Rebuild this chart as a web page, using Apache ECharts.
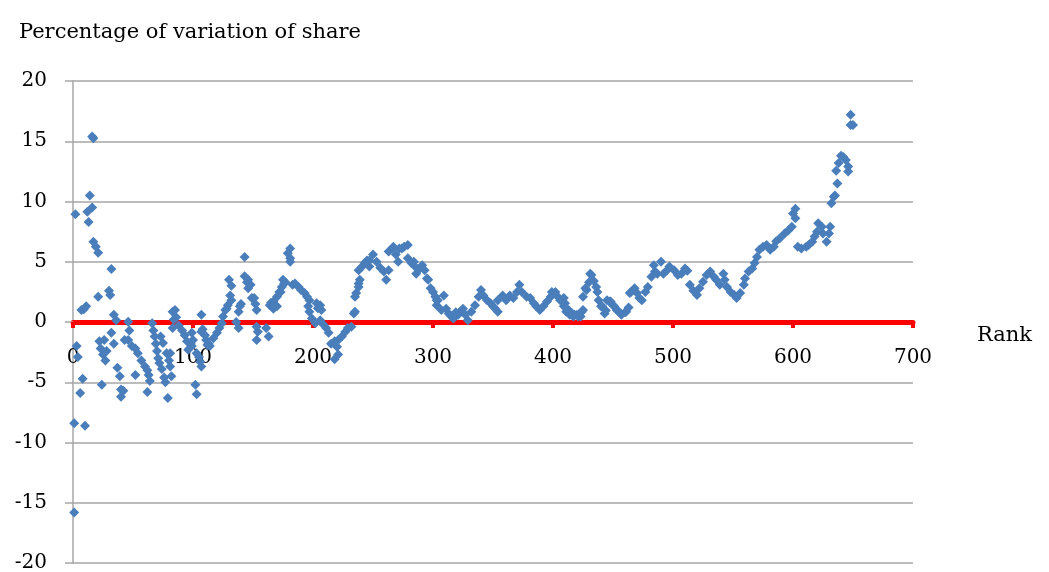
<!DOCTYPE html>
<html>
<head>
<meta charset="utf-8">
<script src="https://cdn.jsdelivr.net/npm/echarts@6/dist/echarts.min.js"></script>
<style>
html,body{margin:0;padding:0;background:#fff;overflow:hidden;}
#chart{width:1049px;height:572px;}
</style>
</head>
<body>
<div id="chart"></div>
<script>
const xTicks = [0, 100, 200, 300, 400, 500, 600, 700];
const yTicks = [-20, -15, -10, -5, 0, 5, 10, 15, 20];

const ranks = [
1,1,2,3,4,6,8,7,9,10,11,12,13,14,16,16,17,17,19,21,21,22,23,24,25,26,27,28,30,31,32,32,34,34,36,37,39,40,40,42,43,46,46,47,49,52,52,54,57,60,62,62,63,64,66,67,68,69,70,71,72,73,74,75,76,77,78,79,80,81,82,81,83,83,84,85,86,88,91,93,95,96,98,99,99,100,102,103,103,105,106,107,107,107,108,110,111,112,113,114,117,120,122,124,125,127,128,129,130,131,132,132,136,138,138,139,140,143,143,145,146,146,148,149,151,152,153,153,154,153,161,163,164,165,167,167,170,170,172,173,174,175,176,177,179,181,181,181,183,185,188,190,193,195,196,197,197,199,202,203,204,206,207,206,209,211,213,215,218,220,221,221,218,224,227,229,232,234,235,235,236,238,238,239,238,241,243,245,247,247,250,253,256,259,261,263,263,266,267,269,271,272,274,276,279,279,282,284,285,286,289,291,293,295,296,298,300,302,303,303,304,307,309,311,313,315,317,319,321,323,325,327,329,332,335,338,340,342,345,348,350,352,354,354,358,361,364,367,370,372,374,378,381,384,386,389,392,395,398,399,402,404,406,409,409,410,411,413,414,416,417,418,420,421,423,424,425,425,427,428,430,431,432,434,436,437,438,440,441,443,444,445,447,448,450,451,453,454,457,460,461,463,464,465,467,468,470,472,474,477,479,482,484,485,487,490,492,495,497,501,504,507,510,512,514,517,520,522,525,528,531,534,536,539,542,543,545,548,551,553,556,559,560,563,566,568,570,572,575,578,581,584,586,589,593,596,599,600,602,602,604,607,611,613,616,618,620,621,624,625,628,630,631,632,634,635,637,636,638,640,642,644,646,646,648,648,650
];
const shares = [
-15.8,-8.4,8.95,-2.0,-2.9,-5.9,-4.7,1.0,1.05,-8.6,1.3,9.15,8.3,10.5,15.4,9.5,15.25,6.65,6.25,5.75,2.1,-1.6,-2.2,-5.2,-2.7,-1.5,-3.2,-2.4,2.6,2.25,4.4,-0.9,0.6,-1.8,0.15,-3.8,-4.5,-5.6,-6.2,-5.7,-1.5,0.03,-1.5,-0.7,-2.0,-4.4,-2.2,-2.6,-3.2,-3.7,-4.0,-5.8,-4.4,-4.9,-0.1,-0.7,-1.2,-1.8,-2.4,-3.0,-3.4,-1.2,-3.9,-1.75,-4.6,-5.0,-2.6,-6.3,-3.2,-3.7,-4.5,-2.6,-0.5,0.85,0.2,1.0,0.4,-0.3,-0.7,-1.1,-1.6,-2.3,-1.8,-0.9,-2.0,-1.5,-5.2,-6.0,-2.6,-2.9,-3.3,-3.7,0.6,-0.8,-0.6,-1.1,-1.5,-1.9,-1.8,-2.0,-1.35,-0.9,-0.5,-0.1,0.45,1.0,1.1,1.4,3.5,2.2,1.8,3.0,0.0,-0.5,0.85,1.3,1.5,5.4,3.8,3.3,3.5,2.8,3.1,2.0,2.0,1.5,1.0,-0.4,-0.8,-1.5,-0.5,-1.2,1.4,1.6,1.7,1.1,2.1,1.3,2.5,2.5,2.9,3.5,3.2,3.3,5.7,6.1,5.3,5.0,3.1,3.2,2.9,2.65,2.4,2.1,1.3,1.8,0.85,0.3,-0.1,1.55,1.15,1.4,1.0,0.15,-0.25,-0.5,-0.9,-1.8,-1.6,-2.05,-1.5,-2.7,-3.1,-1.2,-0.8,-0.5,-0.4,0.7,0.85,2.1,2.4,2.9,3.2,3.5,4.3,4.6,4.9,5.1,4.6,5.1,5.6,5.0,4.5,4.2,3.5,4.3,5.85,6.1,6.25,5.6,5.0,6.1,6.1,6.25,6.4,5.3,4.9,5.0,4.6,4.0,4.45,4.7,4.3,3.6,3.5,2.8,2.5,2.1,1.8,1.4,1.8,1.0,2.2,1.1,0.7,0.5,0.3,0.8,0.6,0.9,1.1,0.6,0.15,0.85,1.4,2.1,2.65,2.2,1.8,1.55,1.3,1.1,0.85,1.8,2.2,1.8,2.2,2.0,2.5,3.1,2.5,2.1,2.0,1.55,1.3,1.0,1.3,1.7,2.1,2.5,2.5,2.1,1.8,2.0,1.3,1.55,0.85,1.0,0.6,0.7,0.45,0.6,0.6,0.45,0.45,0.85,1.0,2.1,2.8,2.65,3.3,4.0,3.9,3.4,2.9,2.5,1.8,1.3,1.3,0.7,0.95,1.8,1.7,1.7,1.4,1.3,1.0,0.95,0.6,0.8,0.85,1.2,2.4,2.5,2.65,2.8,2.4,2.0,1.8,2.5,2.9,3.75,4.7,4.2,4.0,5.0,4.0,4.3,4.6,4.3,3.9,4.0,4.45,4.25,3.1,2.6,2.25,2.8,3.35,3.9,4.2,3.75,3.5,3.1,4.0,3.5,2.9,2.5,2.25,2.0,2.4,3.1,3.6,4.2,4.45,4.9,5.4,6.0,6.25,6.4,6.0,6.25,6.7,6.95,7.35,7.6,7.9,9.0,9.4,8.6,6.25,6.1,6.25,6.4,6.65,7.1,7.5,8.2,7.9,7.35,6.65,7.35,7.9,9.85,10.4,10.5,11.5,12.55,13.2,13.8,13.7,13.45,12.9,12.5,17.2,16.35,16.35
];

const points = ranks.map((r, i) => [r, shares[i]]);
const FONT = 'DejaVu Serif';

const GRID_TOP = 81, GRID_BOTTOM = 9, CH = 572;
const plotH = CH - GRID_TOP - GRID_BOTTOM;
const yMin = yTicks[0], yMax = yTicks[yTicks.length - 1];
// distance from bottom of plot up to the value 0 on the y axis
const zeroOffset = -plotH * (0 - yMin) / (yMax - yMin);

const chart = echarts.init(document.getElementById('chart'), null, {renderer: 'canvas'});
chart.setOption({
  animation: false,
  backgroundColor: '#ffffff',
  title: {
    text: 'Percentage of variation of share',
    left: 14, top: 17,
    textStyle: {fontFamily: FONT, fontSize: 21, fontWeight: 'normal', color: '#000'}
  },
  grid: {left: 73, right: 136, top: GRID_TOP, bottom: GRID_BOTTOM, containLabel: false, outerBoundsMode: 'none'},
  xAxis: {
    type: 'value',
    position: 'bottom',
    offset: zeroOffset,
    min: xTicks[0], max: xTicks[xTicks.length - 1], interval: 100,
    name: 'Rank',
    nameLocation: 'end',
    nameGap: 64,
    nameTextStyle: {fontFamily: FONT, fontSize: 21, color: '#000', verticalAlign: 'top', padding: [3, 0, 0, 0]},
    axisLine: {onZero: false, lineStyle: {color: '#FF0000', width: 5}},
    axisTick: {show: true, inside: false, length: 6, lineStyle: {color: '#FF0000', width: 4}},
    axisLabel: {show: true, fontFamily: FONT, fontSize: 20, color: '#000', margin: 26},
    splitLine: {show: false}
  },
  yAxis: {
    type: 'value',
    min: yMin, max: yMax, interval: 5,
    axisLine: {show: true, onZero: false, lineStyle: {color: '#A6A6A6', width: 1.5}},
    axisTick: {show: true, inside: false, length: 8, lineStyle: {color: '#A6A6A6', width: 1.5}},
    axisLabel: {fontFamily: FONT, fontSize: 20, color: '#000', margin: 26},
    splitLine: {show: true, lineStyle: {color: '#A6A6A6', width: 1.5}}
  },
  series: [{
    type: 'scatter',
    symbol: 'diamond',
    symbolSize: 10,
    itemStyle: {color: '#4A7EBB', opacity: 1},
    data: points,
    z: 5
  }]
});
</script>
</body>
</html>
